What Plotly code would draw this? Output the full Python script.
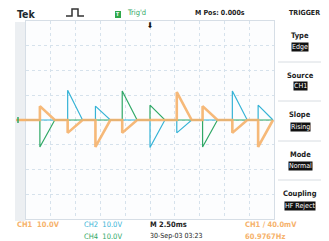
import plotly.graph_objects as go

# ---- data (time in ms, volts) ----
ch1_t = [-12.5, -11.1, -11.1, -9.6, -8.3, -8.3, -6.8, -5.5, -5.5, -4.0, -2.8, -2.8, -1.3,
         2.7, 2.7, 4.2, 5.3, 5.3, 6.8, 8.3, 8.3, 9.8, 10.9, 10.9, 12.4]
ch1_v = [0, 0, 5.6, 0, 0, -5.2, 0, 0, -10.9, 0, 0, -5.2, 0,
         0, 11.3, 0, 0, 5.6, 0, 0, -5.2, 0, 0, -10.9, 0]

ch2_t = [-12.5, -8.3, -8.3, -6.8, -5.5, -5.5, -4.0, 0.0, 0.0, 1.5, 2.7, 2.7, 4.2,
         8.3, 8.3, 9.8, 10.9, 10.9, 12.4]
ch2_v = [0, 0, 12.0, 0, 0, 5.6, 0, 0, -11.1, 0, 0, -5.2, 0,
         0, 11.7, 0, 0, 6.0, 0]

ch4_t = [-12.5, -11.1, -11.1, -9.6, -2.8, -2.8, -1.3, 0.0, 0.0, 1.5, 5.3, 5.3, 6.8, 12.4]
ch4_v = [0, 0, -10.9, 0, 0, 11.7, 0, 0, 6.0, 0, 0, -10.9, 0, 0]

menu_titles = ["Type", "Source", "Slope", "Mode", "Coupling"]
menu_values = ["Edge", "CH1", "Rising", "Normal", "HF Reject"]

C_OR = "#f6b26b"
C_CY = "#35b3d6"
C_GR = "#2fa866"
FONT = "Liberation Sans Narrow, DejaVu Sans Condensed, Arial Narrow, sans-serif"

# page body has an 8px margin: design in reference pixels, offset by 8
OFF = 8
W, H = 329 - OFF, 241 - OFF
L, R, T, B = 26, 274, 21, 219   # reference pixel positions of graticule


def px(x):
    return (x - L) / (R - L)


def py(y):
    return (B - y) / (B - T)


fig = go.Figure()
fig.add_trace(go.Scatter(x=ch4_t, y=ch4_v, mode="lines", line=dict(color=C_GR, width=1.2), hoverinfo="skip"))
fig.add_trace(go.Scatter(x=ch2_t, y=ch2_v, mode="lines", line=dict(color=C_CY, width=1.2), hoverinfo="skip"))
fig.add_trace(go.Scatter(x=ch1_t, y=ch1_v, mode="lines", line=dict(color=C_OR, width=2.6), opacity=0.9, hoverinfo="skip"))

shapes = []
# left grey strip
shapes.append(dict(type="rect", xref="paper", yref="paper", x0=px(15), x1=px(25.5), y0=py(221), y1=py(22),
                   fillcolor="#eceff2", line=dict(width=0), layer="below"))
# ground markers
shapes.append(dict(type="line", xref="paper", yref="paper", x0=px(16), x1=px(26), y0=py(120), y1=py(120),
                   line=dict(color=C_OR, width=2.5)))
shapes.append(dict(type="line", xref="paper", yref="paper", x0=px(18), x1=px(18), y0=py(117), y1=py(123),
                   line=dict(color=C_GR, width=1.5)))
# pulse symbol
shapes.append(dict(type="path", xref="paper", yref="paper",
                   path=f"M {px(66)},{py(16)} L {px(72)},{py(16)} L {px(72)},{py(9)} L {px(78)},{py(9)} L {px(78)},{py(16)} L {px(84)},{py(16)}",
                   line=dict(color="#333", width=1.5)))
# green trig square
shapes.append(dict(type="rect", xref="paper", yref="paper", x0=px(115), x1=px(121), y0=py(18), y1=py(11),
                   fillcolor="#2fa84a", line=dict(width=0)))
# menu dividers
for yy in [62, 101, 141, 180]:
    shapes.append(dict(type="line", xref="paper", yref="paper", x0=px(278), x1=px(325), y0=py(yy), y1=py(yy),
                       line=dict(color="#d8dde2", width=1)))

ann = []


def text(x, y, s, color="#222", size=8, bold=False, xanchor="center", bg=None):
    d = dict(x=px(x), y=py(y), xref="paper", yref="paper", text=(f"<b>{s}</b>" if bold else s),
             showarrow=False, xanchor=xanchor, yanchor="middle",
             font=dict(family=FONT, size=size, color=color))
    if bg:
        d.update(bgcolor=bg, borderpad=0)
    ann.append(d)


text(15, 14, "Tek", "#1d2a30", 10.5, True, "left")
text(118, 14.5, "T", "#ffffff", 5, True)
text(125, 13, "Trig'd", C_GR, 7.5, False, "left")
text(220, 13, "M Pos: 0.000s", "#222", 7, True)
text(304, 13, "TRIGGER", "#222", 7, True)
text(150, 25, "⬇", "#111", 8, True)

title_y = [35, 75, 115, 154, 193]
box_y = [47, 86, 127, 166, 206]
for t, v, ty, by in zip(menu_titles, menu_values, title_y, box_y):
    text(300, ty, t, "#222", 7.5, True)
    text(300, by, v, "#ffffff", 7, False, "center", "#111111")

text(15, 224, "CH1  10.0V", C_OR, 7.5, True, "left")
text(82, 224, "CH2  10.0V", C_CY, 7.5, False, "left")
text(82, 236, "CH4  10.0V", C_GR, 7.5, False, "left")
text(148, 224, "M 2.50ms", "#222", 7.5, True, "left")
text(148, 236, "30-Sep-03 03:23", "#222", 7, False, "left")
text(243, 224, "CH1 ∕ 40.0mV", C_OR, 7.5, True, "left")
text(243, 236, "60.9767Hz", C_OR, 7.5, True, "left")

fig.update_layout(
    width=W, height=H,
    margin=dict(l=L - OFF, r=W - (R - OFF), t=T - OFF, b=H - (B - OFF)),
    paper_bgcolor="#ffffff", plot_bgcolor="#fcfdfe",
    showlegend=False,
    shapes=shapes, annotations=ann,
    xaxis=dict(range=[-12.5, 12.5], dtick=2.5, tick0=0, showticklabels=False, ticks="",
               showgrid=True, gridcolor="#d6e2ec", griddash="dot", gridwidth=1,
               zeroline=False, showline=True, linecolor="#d6dee6", mirror=True, fixedrange=True),
    yaxis=dict(range=[-40, 40], dtick=10, tick0=0, showticklabels=False, ticks="",
               showgrid=True, gridcolor="#d6e2ec", griddash="dot", gridwidth=1,
               zeroline=False, showline=True, linecolor="#d6dee6", mirror=True, fixedrange=True),
)

fig.write_html("out.html")
